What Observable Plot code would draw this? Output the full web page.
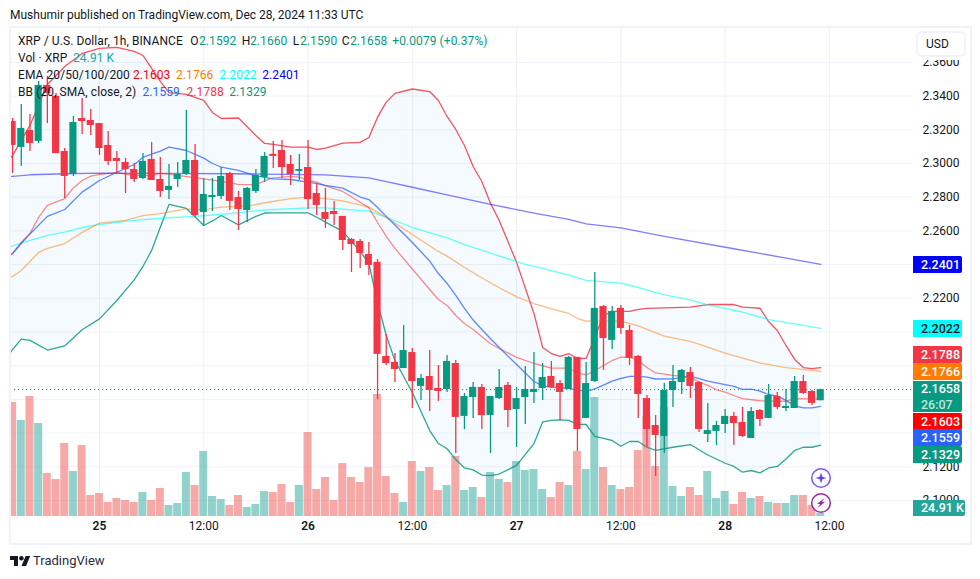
<!DOCTYPE html>
<html>
<head>
<meta charset="utf-8">
<script src="https://cdn.jsdelivr.net/npm/d3@7"></script>
<script src="https://cdn.jsdelivr.net/npm/@observablehq/plot@0.6"></script>
<style>
html,body{margin:0;padding:0;background:#fff}
#wrap{position:relative;width:980px;height:579px;overflow:hidden;font-family:Roboto,sans-serif;color:#131722}
#chart svg{display:block}
.abs{position:absolute;white-space:pre}
.lg{position:absolute;font-size:12px;line-height:17px;white-space:pre;letter-spacing:.08px}
.pl{position:absolute;left:913px;width:48.5px;text-align:left;font-size:12.5px;line-height:17px;height:17px;padding-left:8px;box-sizing:border-box;border-radius:0 2px 2px 0;font-weight:500}
</style>
</head>
<body>
<div id="wrap">
<div id="chart"></div>
</div>
<script>
const firstHour = -10; // hours relative to Dec 25 00:00
const open = [2.3249,2.3095,2.3196,2.3131,2.3463,2.3398,2.3071,2.2935,2.3267,2.3255,2.3237,2.3107,2.3030,2.3006,2.2964,2.2911,2.3024,2.2905,2.2840,2.2905,2.2935,2.3018,2.2709,2.2798,2.2804,2.2941,2.2798,2.2721,2.2834,2.2917,2.3054,2.3077,2.2994,2.2953,2.2976,2.2822,2.2709,2.2715,2.2686,2.2549,2.2537,2.2460,2.2413,2.1855,2.1819,2.1783,2.1878,2.1677,2.1736,2.1665,2.1659,2.1813,2.1499,2.1611,2.1671,2.1504,2.1605,2.1683,2.1540,2.1611,2.1641,2.1665,2.1736,2.1694,2.1659,2.1849,2.1487,2.1706,2.2151,2.1950,2.2140,2.2009,2.1855,2.1605,2.1445,2.1380,2.1653,2.1700,2.1760,2.1700,2.1392,2.1410,2.1451,2.1499,2.1463,2.1368,2.1534,2.1487,2.1617,2.1546,2.1546,2.1706,2.1647,2.1592];
const close = [2.3107,2.3208,2.3119,2.3463,2.3416,2.3059,2.2923,2.3243,2.3249,2.3226,2.3089,2.3012,2.3012,2.2964,2.2905,2.3012,2.2899,2.2834,2.2864,2.2935,2.3018,2.2691,2.2816,2.2810,2.2923,2.2775,2.2727,2.2852,2.2929,2.3042,2.3042,2.2976,2.2935,2.2964,2.2786,2.2751,2.2668,2.2697,2.2543,2.2519,2.2466,2.2395,2.1867,2.1813,2.1777,2.1890,2.1706,2.1724,2.1653,2.1647,2.1825,2.1493,2.1617,2.1671,2.1504,2.1617,2.1671,2.1534,2.1605,2.1659,2.1659,2.1730,2.1671,2.1641,2.1849,2.1421,2.1694,2.2140,2.1961,2.2122,2.2021,2.1843,2.1629,2.1421,2.1386,2.1653,2.1706,2.1772,2.1677,2.1421,2.1415,2.1445,2.1499,2.1457,2.1380,2.1528,2.1481,2.1623,2.1552,2.1558,2.1706,2.1635,2.1576,2.1658];
const high = [2.3267,2.3350,2.3290,2.3487,2.3516,2.3416,2.3089,2.3279,2.3386,2.3321,2.3237,2.3190,2.3071,2.3030,2.3000,2.3059,2.3125,2.3036,2.2994,2.3006,2.3315,2.3113,2.2911,2.2911,2.2976,2.2947,2.2834,2.2858,2.2964,2.3065,2.3131,2.3137,2.3048,2.3054,2.3137,2.2881,2.2852,2.2775,2.2686,2.2555,2.2549,2.2531,2.2430,2.1985,2.1872,2.2039,2.1902,2.1748,2.1890,2.1801,2.1861,2.1831,2.1635,2.1700,2.1688,2.1617,2.1777,2.1700,2.1671,2.1795,2.1878,2.1813,2.1825,2.1712,2.1855,2.1849,2.1819,2.2353,2.2157,2.2151,2.2157,2.2039,2.1861,2.1623,2.1504,2.1694,2.1801,2.1777,2.1789,2.1706,2.1576,2.1469,2.1540,2.1522,2.1552,2.1552,2.1540,2.1688,2.1641,2.1659,2.1736,2.1742,2.1653,2.1660];
const low = [2.2941,2.2982,2.3071,2.3119,2.3237,2.3059,2.2792,2.2923,2.3172,2.3166,2.3048,2.2988,2.2941,2.2822,2.2887,2.2905,2.2899,2.2798,2.2786,2.2858,2.2929,2.2680,2.2626,2.2715,2.2786,2.2721,2.2602,2.2650,2.2822,2.2887,2.2970,2.2911,2.2870,2.2899,2.2727,2.2691,2.2614,2.2632,2.2484,2.2353,2.2377,2.2335,2.1599,2.1801,2.1700,2.1783,2.1546,2.1594,2.1528,2.1588,2.1641,2.1279,2.1421,2.1487,2.1421,2.1279,2.1599,2.1433,2.1315,2.1451,2.1576,2.1594,2.1665,2.1475,2.1659,2.1291,2.1487,2.1700,2.1772,2.1896,2.1985,2.1801,2.1487,2.1315,2.1142,2.1279,2.1552,2.1629,2.1605,2.1404,2.1344,2.1326,2.1398,2.1326,2.1374,2.1368,2.1439,2.1487,2.1540,2.1528,2.1546,2.1629,2.1564,2.1590];
const volumeK = [912,768,960,744,344,296,584,360,568,168,184,112,144,128,112,192,128,224,88,104,352,248,520,160,136,88,168,72,96,200,192,256,112,248,672,216,312,128,424,312,272,392,976,320,184,112,440,360,392,208,248,480,208,232,152,352,296,272,440,368,376,216,152,272,248,520,376,952,392,248,216,232,528,800,400,872,240,160,232,168,360,144,200,96,192,144,160,112,104,104,168,168,88,24.91];

const bbHours = [-11,-10,-9,-8,-6,-4,-2,0,2,4,5,6,7,8,10,12,13,14,16,18,19,20,22,24,25,26,28,30,31,32,33,34,36,38,39,40,41,42,43,44,45,46,48,50,51,52,53,54,55,56,57,58,59,60,61,62,63,64,66,68,70,72,73,74,75,76,77,78,79,80,81,82,83];
const bbUpper = [2.2988,2.3048,2.3137,2.3226,2.3469,2.3576,2.3653,2.3683,2.3689,2.3665,2.3641,2.3564,2.3487,2.3421,2.3410,2.3374,2.3303,2.3267,2.3270,2.3166,2.3119,2.3113,2.3097,2.3097,2.3083,2.3091,2.3121,2.3125,2.3154,2.3275,2.3364,2.3416,2.3442,2.3427,2.3374,2.3279,2.3202,2.3107,2.2982,2.2893,2.2763,2.2662,2.2413,2.2110,2.1908,2.1872,2.1855,2.1872,2.1843,2.1843,2.1967,2.2098,2.2122,2.2122,2.2122,2.2134,2.2140,2.2142,2.2145,2.2147,2.2163,2.2163,2.2163,2.2147,2.2145,2.2141,2.2062,2.2009,2.1920,2.1837,2.1789,2.1783,2.1788];
const bbBasis = [2.2436,2.2466,2.2525,2.2582,2.2686,2.2727,2.2830,2.2899,2.2948,2.2994,2.3036,2.3056,2.3073,2.3097,2.3077,2.3032,2.3000,2.2979,2.2959,2.2926,2.2917,2.2909,2.2905,2.2890,2.2880,2.2870,2.2854,2.2801,2.2786,2.2739,2.2686,2.2635,2.2531,2.2421,2.2347,2.2288,2.2217,2.2140,2.2071,2.2015,2.1960,2.1908,2.1807,2.1706,2.1680,2.1672,2.1671,2.1665,2.1655,2.1647,2.1662,2.1685,2.1708,2.1724,2.1736,2.1736,2.1732,2.1721,2.1722,2.1738,2.1709,2.1687,2.1677,2.1659,2.1661,2.1649,2.1629,2.1619,2.1594,2.1561,2.1550,2.1550,2.1559];
const bbLower = [2.1819,2.1896,2.1958,2.1950,2.1893,2.1917,2.2013,2.2078,2.2187,2.2309,2.2389,2.2484,2.2622,2.2757,2.2733,2.2632,2.2659,2.2691,2.2636,2.2686,2.2706,2.2707,2.2707,2.2707,2.2681,2.2652,2.2597,2.2478,2.2407,2.2175,2.1979,2.1831,2.1641,2.1415,2.1338,2.1307,2.1243,2.1193,2.1182,2.1151,2.1148,2.1157,2.1208,2.1338,2.1466,2.1475,2.1478,2.1475,2.1451,2.1451,2.1380,2.1368,2.1356,2.1322,2.1350,2.1350,2.1316,2.1297,2.1316,2.1332,2.1270,2.1221,2.1202,2.1168,2.1178,2.1164,2.1193,2.1202,2.1246,2.1297,2.1316,2.1316,2.1329];

const ema20Hours = [-11,-10,-9,-8,-7,-6,-4,-3,-2,-1,0,2,4,6,7,9,12,15,16,18,19,20,22,23,24,25,26,28,30,31,32,33,34,36,38,39,40,41,42,43,45,46,48,50,52,54,55,56,57,58,59,60,61,62,63,64,66,68,69,70,71,72,73,74,76,79,80,83];
const ema20 = [2.2430,2.2466,2.2533,2.2585,2.2680,2.2751,2.2792,2.2855,2.2899,2.2925,2.2935,2.2945,2.2929,2.2929,2.2941,2.2929,2.2909,2.2886,2.2875,2.2875,2.2897,2.2915,2.2923,2.2919,2.2899,2.2889,2.2867,2.2834,2.2770,2.2737,2.2650,2.2567,2.2496,2.2374,2.2252,2.2193,2.2157,2.2098,2.2050,2.2015,2.1930,2.1902,2.1849,2.1813,2.1785,2.1785,2.1758,2.1746,2.1770,2.1801,2.1831,2.1850,2.1850,2.1831,2.1789,2.1757,2.1742,2.1732,2.1703,2.1683,2.1657,2.1643,2.1623,2.1604,2.1592,2.1589,2.1604,2.1603];
const ema50Hours = [-11,-10,-9,-7,-6,-4,-2,0,3,5,7,10,12,14,17,19,22,24,26,28,31,33,36,39,40,42,45,48,50,52,54,55,56,60,62,65,68,70,72,74,76,79,83];
const ema50 = [2.2312,2.2329,2.2365,2.2472,2.2496,2.2525,2.2591,2.2646,2.2662,2.2691,2.2703,2.2731,2.2725,2.2741,2.2747,2.2767,2.2791,2.2800,2.2792,2.2778,2.2741,2.2680,2.2579,2.2478,2.2450,2.2383,2.2291,2.2208,2.2169,2.2137,2.2110,2.2080,2.2064,2.2064,2.2036,2.1976,2.1944,2.1910,2.1875,2.1845,2.1816,2.1789,2.1766];
const ema100Hours = [-11,-8,-6,-4,-2,0,4,8,11,15,19,24,26,31,33,36,40,42,45,49,51,54,56,60,62,65,68,70,74,77,80,83];
const ema100 = [2.2496,2.2543,2.2573,2.2592,2.2620,2.2638,2.2662,2.2678,2.2686,2.2703,2.2724,2.2737,2.2737,2.2717,2.2681,2.2620,2.2559,2.2519,2.2468,2.2401,2.2377,2.2337,2.2306,2.2290,2.2264,2.2220,2.2191,2.2161,2.2118,2.2074,2.2048,2.2022];
const ema200Hours = [-11,-8,-4,0,8,15,19,26,31,33,36,40,45,50,54,56,60,65,73,80,83];
const ema200 = [2.2919,2.2933,2.2939,2.2943,2.2941,2.2939,2.2937,2.2932,2.2915,2.2893,2.2859,2.2814,2.2757,2.2706,2.2668,2.2641,2.2618,2.2567,2.2494,2.2430,2.2401];

const lastPrice = 2.1658;
const gridPrices = [2.36,2.34,2.32,2.30,2.28,2.26,2.24,2.22,2.20,2.18,2.16,2.14,2.12,2.10];
const axisPrices = [2.36,2.34,2.32,2.30,2.28,2.26,2.22,2.12,2.10]; // the others sit behind the value labels
const timeTicks = [0,12,24,36,48,60,72,84];
const timeLabels = ["25","12:00","26","12:00","27","12:00","28","12:00"];
const volKPerPrice = 8 * 1685;          // how much volume one unit of the price axis stands for
const volBase = 2.0905;

const GREEN = "#089981", RED = "#f23645";
const candles = open.map((o,i)=>({h:firstHour+i,o,c:close[i],hi:high[i],lo:low[i],v:volumeK[i],up:close[i]>=o}));
const bb = bbHours.map((h,i)=>({h,u:bbUpper[i],b:bbBasis[i],l:bbLower[i]}));
const pairs = (hs,vs)=>hs.map((h,i)=>({h,v:vs[i]}));
const ticks = timeTicks.map((h,i)=>({h,t:timeLabels[i],day:!timeLabels[i].includes(":")}));
const LW = 1.3;

const plot = Plot.plot({
  width:980,height:579,
  marginLeft:10,marginRight:68,marginTop:27,marginBottom:63,
  style:{fontFamily:"Roboto,sans-serif",background:"#fff",color:"#131722"},
  x:{domain:[-10.24,93.56],axis:null},
  y:{domain:[volBase,2.3807],axis:null},
  marks:[
    Plot.gridY(gridPrices,{stroke:"#f0f3fa",strokeOpacity:1}),
    Plot.gridX(timeTicks,{stroke:"#eef0f5",strokeOpacity:1}),
    Plot.axisY(axisPrices,{anchor:"right",tickSize:0,tickPadding:10,tickFormat:d3.format(".4f"),fontSize:12,fill:"#131722",label:null}),
    Plot.text(ticks.filter(d=>d.day),{x:"h",text:"t",frameAnchor:"bottom",dy:13,fontSize:12,fontWeight:600,fill:"#131722"}),
    Plot.text(ticks.filter(d=>!d.day),{x:"h",text:"t",frameAnchor:"bottom",dy:13,fontSize:12,fill:"#131722"}),
    // volume pane shares the price axis, anchored at the bottom of the pane
    Plot.rect(candles,{x1:d=>d.h-0.46,x2:d=>d.h+0.46,y1:volBase,y2:d=>volBase+d.v/volKPerPrice,fill:d=>d.up?"#26a69a":"#ef5350",fillOpacity:0.5,clip:true}),
    Plot.areaY(bb,{x:"h",y1:"l",y2:"u",fill:"#2196f3",fillOpacity:0.05,clip:true}),
    Plot.line(bb,{x:"h",y:"u",stroke:RED,strokeWidth:LW,strokeOpacity:.85,clip:true}),
    Plot.line(bb,{x:"h",y:"l",stroke:GREEN,strokeWidth:LW,strokeOpacity:.85,clip:true}),
    Plot.line(pairs(ema200Hours,ema200),{x:"h",y:"v",stroke:"#0000ff",strokeWidth:LW,strokeOpacity:.5,clip:true}),
    Plot.line(pairs(ema100Hours,ema100),{x:"h",y:"v",stroke:"#00ffff",strokeWidth:LW,strokeOpacity:.6,clip:true}),
    Plot.line(pairs(ema50Hours,ema50),{x:"h",y:"v",stroke:"#ff7b00",strokeWidth:LW,strokeOpacity:.5,clip:true}),
    Plot.line(pairs(ema20Hours,ema20),{x:"h",y:"v",stroke:"#ff0000",strokeWidth:LW,strokeOpacity:.45,clip:true}),
    Plot.line(bb,{x:"h",y:"b",stroke:"#2962ff",strokeWidth:LW,strokeOpacity:.75,clip:true}),
    Plot.ruleX(candles,{x:"h",y1:"lo",y2:"hi",stroke:d=>d.up?GREEN:RED,strokeWidth:1.3,clip:true}),
    Plot.rect(candles,{x1:d=>d.h-0.41,x2:d=>d.h+0.41,y1:"o",y2:"c",fill:d=>d.up?GREEN:RED,clip:true}),
    Plot.ruleY([lastPrice],{stroke:GREEN,strokeWidth:1,strokeDasharray:"1 3"})
  ]
});
const wrap = document.getElementById("wrap");
document.getElementById("chart").appendChild(plot);

function el(html){const t=document.createElement("template");t.innerHTML=html.trim();const n=t.content.firstChild;wrap.appendChild(n);return n;}

// chart frame and header/footer
el(`<div class="abs" style="left:9px;top:26px;width:959px;height:515px;border:2px solid #f0f3fa;pointer-events:none"></div>`);
el(`<div class="abs" style="left:10px;top:7px;font-size:12px;line-height:17px">Mushumir published on TradingView.com, Dec 28, 2024 11:33 UTC</div>`);
el(`<svg class="abs" style="left:10px;top:556px" width="20.5" height="10.3" viewBox="0 4 36 18"><path fill="#131722" d="M14 22H7V11H0V4h14v18zM28 22h-8l7.5-18h8L28 22z"/><circle cx="20" cy="8" r="4" fill="#131722"/></svg>`);
el(`<div class="abs" style="left:33px;top:552px;font-size:13px;line-height:18px;color:#2a2e39">TradingView</div>`);
el(`<div class="abs" style="left:914px;top:29px;width:54px;height:31px;background:#fff"></div>`);
el(`<div class="abs" style="left:916px;top:31px;width:50px;height:26px;box-sizing:border-box;border:2px solid #f0f3fa;border-radius:6px;background:#fff;font-size:12px;line-height:22px;padding-left:8px">USD</div>`);

// legend rows, each piece at the place it has in the reference
const rows=[
 [33,[["XRP / U.S. Dollar, 1h, BINANCE",18],["O",190.3],["2.1592",199,GREEN],["H",241.7],["2.1660",250,GREEN],["L",292.7],["2.1590",300,GREEN],["C",341.7],["2.1658",350,GREEN],["+0.0079 (+0.37%)",392.3,GREEN]]],
 [50,[["Vol · XRP",18],["24.91 K",73,"#26a69a"]]],
 [67,[["EMA 20/50/100/200",18],["2.1603",133,"#ff0000"],["2.1766",176,"#ff7b00"],["2.2022",219.3,"#00ffff"],["2.2401",262.3,"#0000ff"]]],
 [84,[["BB (20, SMA, close, 2)",18],["2.1559",142.5,"#2962ff"],["2.1788",186.5,RED],["2.1329",229.3,GREEN]]]
];
for(const [top,parts] of rows) for(const [t,left,c] of parts)
  el(`<div class="lg" style="top:${top}px;left:${left}px;color:${c||"#131722"}">${t}</div>`);

// stacked price labels
const priceLabels=[
 ["2.2401","#0000ff","#fff",256],["2.2022","#00ffff","#131722",320],["2.1788",RED,"#fff",346],
 ["2.1766","#ff7b00","#fff",363],["2.1603","#ff0000","#fff",412.5],["2.1559","#2962ff","#fff",429],["2.1329",GREEN,"#fff",446]];
for(const [t,bg,fg,top] of priceLabels) el(`<div class="pl" style="top:${top}px;background:${bg};color:${fg}">${t}</div>`);
el(`<div class="pl" style="top:381px;height:31px;background:${GREEN};color:#fff;line-height:15.5px">2.1658<br><span style="color:#bfe5de">26:07</span></div>`);
el(`<div class="pl" style="top:500px;height:16px;width:52px;line-height:16px;background:#26a69a;color:#fff">24.91 K</div>`);

// floating buttons
el(`<svg class="abs" style="left:810px;top:467px" width="22" height="22"><circle cx="11" cy="11" r="9.3" fill="#fff" stroke="#7e57f5" stroke-width="1.5"/><path fill="#6a3df0" d="M11 5.5 L12.3 9.7 L16.5 11 L12.3 12.3 L11 16.5 L9.7 12.3 L5.5 11 L9.7 9.7 Z"/></svg>`);
el(`<svg class="abs" style="left:810px;top:492px" width="22" height="22"><circle cx="11" cy="11" r="9.3" fill="#fff" stroke="#9c27b0" stroke-width="1.5"/><path fill="#9c27b0" d="M14.8 5.8 L7 12 L10.2 12 L7.2 16.2 L15.2 9.8 L11.8 9.8 Z"/></svg>`);
</script>
</body>
</html>
